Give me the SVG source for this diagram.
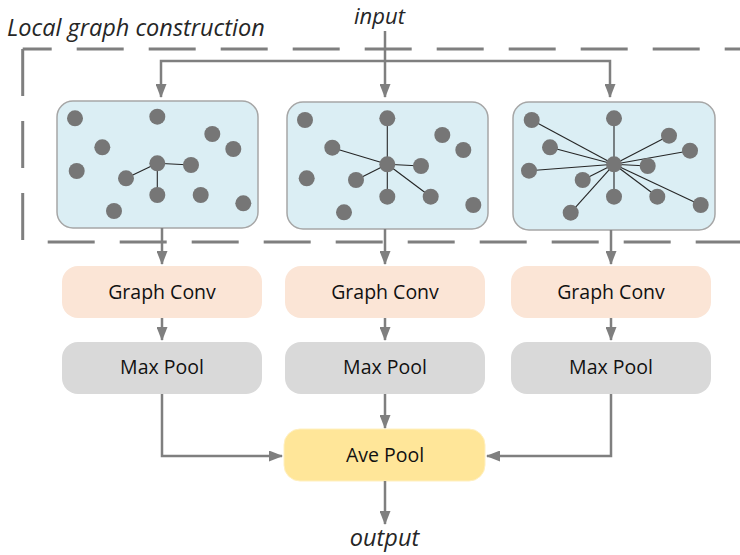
<svg xmlns="http://www.w3.org/2000/svg" width="740" height="555" viewBox="0 0 740 555">
  <defs>
    <marker id="arrow" viewBox="0 0 14 11" refX="13" refY="5.5" markerWidth="14" markerHeight="11" orient="auto" markerUnits="userSpaceOnUse">
      <path d="M0,0 L14,5.5 L0,11 z" fill="#7f7f7f"/>
    </marker>
    <style>
      .frame { fill: none; stroke: #7f7f7f; stroke-width: 3; stroke-dasharray: 47 25; }
      .panel { fill: #dbeef4; stroke: #a6a6a6; stroke-width: 1.5; }
      .pt { fill: #767676; }
      .edge { stroke: #262626; stroke-width: 1.1; fill: none; }
      .conn { fill: none; stroke: #7f7f7f; stroke-width: 2.5; marker-end: url(#arrow); }
      .conv { fill: #fbe5d6; }
      .maxp { fill: #d9d9d9; }
      .avep { fill: #ffe699; stroke: #fff0c0; stroke-width: 1; }
      .lbl { font-family: "Open Sans", "Noto Sans", sans-serif; font-size: 19.5px; fill: #111111; text-anchor: middle; }
      .ital { font-family: "Open Sans", "Noto Sans", sans-serif; font-size: 23.5px; font-style: italic; fill: #262626; }
    </style>
  </defs>

  <!-- dashed region around the graph-construction stage -->
  <g id="local-graph-construction">
    <path class="frame" d="M22.7,49 H745" stroke-dashoffset="18"/>
    <path class="frame" d="M22.7,49 V242"/>
    <path class="frame" d="M22.7,242 H745" stroke-dashoffset="47"/>
    <text class="ital" x="7" y="36">Local graph construction</text>
  </g>

  <!-- panel 1: small neighbourhood -->
  <g id="graph-1">
    <rect class="panel" x="57" y="101" width="201" height="127" rx="16"/>
    <g class="edge">
      <line x1="157.3" y1="163.3" x2="191" y2="165"/>
      <line x1="157.3" y1="163.3" x2="126" y2="178.3"/>
      <line x1="157.3" y1="163.3" x2="157.3" y2="195"/>
    </g>
    <g class="pt">
      <circle cx="75" cy="118.3" r="8"/>
      <circle cx="157.3" cy="116.7" r="8"/>
      <circle cx="212.3" cy="134" r="8"/>
      <circle cx="233.3" cy="149" r="8"/>
      <circle cx="102.3" cy="147.3" r="8"/>
      <circle cx="76.7" cy="171" r="8"/>
      <circle cx="157.3" cy="163.3" r="8"/>
      <circle cx="191" cy="165" r="8"/>
      <circle cx="126" cy="178.3" r="8"/>
      <circle cx="157.3" cy="195" r="8"/>
      <circle cx="200.7" cy="195" r="8"/>
      <circle cx="243.3" cy="203.3" r="8"/>
      <circle cx="114" cy="211" r="8"/>
    </g>
  </g>

  <!-- panel 2: medium neighbourhood -->
  <g id="graph-2">
    <rect class="panel" x="287" y="102" width="201" height="127" rx="16"/>
    <g class="edge">
      <line x1="387.3" y1="164.3" x2="387.3" y2="118.3"/>
      <line x1="387.3" y1="164.3" x2="332.3" y2="147.7"/>
      <line x1="387.3" y1="164.3" x2="421" y2="166"/>
      <line x1="387.3" y1="164.3" x2="356" y2="180"/>
      <line x1="387.3" y1="164.3" x2="387.3" y2="196.7"/>
      <line x1="387.3" y1="164.3" x2="430.7" y2="196.7"/>
    </g>
    <g class="pt">
      <circle cx="305" cy="120" r="8"/>
      <circle cx="387.3" cy="118.3" r="8"/>
      <circle cx="442.3" cy="135" r="8"/>
      <circle cx="463.3" cy="150" r="8"/>
      <circle cx="332.3" cy="147.7" r="8"/>
      <circle cx="306.7" cy="178.3" r="8"/>
      <circle cx="387.3" cy="164.3" r="8"/>
      <circle cx="421" cy="166" r="8"/>
      <circle cx="356" cy="180" r="8"/>
      <circle cx="387.3" cy="196.7" r="8"/>
      <circle cx="430.7" cy="196.7" r="8"/>
      <circle cx="473.3" cy="205" r="8"/>
      <circle cx="344" cy="212.3" r="8"/>
    </g>
  </g>

  <!-- panel 3: full neighbourhood -->
  <g id="graph-3">
    <rect class="panel" x="513" y="102" width="202" height="128" rx="16"/>
    <g class="edge">
      <line x1="614" y1="164.3" x2="531.7" y2="120"/>
      <line x1="614" y1="164.3" x2="614" y2="118.3"/>
      <line x1="614" y1="164.3" x2="669" y2="135.7"/>
      <line x1="614" y1="164.3" x2="690" y2="150.7"/>
      <line x1="614" y1="164.3" x2="550" y2="147.3"/>
      <line x1="614" y1="164.3" x2="529" y2="170.7"/>
      <line x1="614" y1="164.3" x2="647.7" y2="166"/>
      <line x1="614" y1="164.3" x2="582.7" y2="180"/>
      <line x1="614" y1="164.3" x2="614" y2="196.7"/>
      <line x1="614" y1="164.3" x2="657.3" y2="196.7"/>
      <line x1="614" y1="164.3" x2="700.7" y2="205"/>
      <line x1="614" y1="164.3" x2="570.7" y2="212.7"/>
    </g>
    <g class="pt">
      <circle cx="531.7" cy="120" r="8"/>
      <circle cx="614" cy="118.3" r="8"/>
      <circle cx="669" cy="135.7" r="8"/>
      <circle cx="690" cy="150.7" r="8"/>
      <circle cx="550" cy="147.3" r="8"/>
      <circle cx="529" cy="170.7" r="8"/>
      <circle cx="614" cy="164.3" r="8"/>
      <circle cx="647.7" cy="166" r="8"/>
      <circle cx="582.7" cy="180" r="8"/>
      <circle cx="614" cy="196.7" r="8"/>
      <circle cx="657.3" cy="196.7" r="8"/>
      <circle cx="700.7" cy="205" r="8"/>
      <circle cx="570.7" cy="212.7" r="8"/>
    </g>
  </g>

  <!-- processing blocks -->
  <g id="graph-conv-1"><rect class="conv" x="62" y="266" width="200" height="52" rx="16"/><text class="lbl" x="162" y="299">Graph Conv</text></g>
  <g id="graph-conv-2"><rect class="conv" x="285" y="266" width="200" height="52" rx="16"/><text class="lbl" x="385" y="299">Graph Conv</text></g>
  <g id="graph-conv-3"><rect class="conv" x="511" y="266" width="200" height="52" rx="16"/><text class="lbl" x="611" y="299">Graph Conv</text></g>

  <g id="max-pool-1"><rect class="maxp" x="62" y="342" width="200" height="52" rx="16"/><text class="lbl" x="162" y="374">Max Pool</text></g>
  <g id="max-pool-2"><rect class="maxp" x="285" y="342" width="200" height="52" rx="16"/><text class="lbl" x="385" y="374">Max Pool</text></g>
  <g id="max-pool-3"><rect class="maxp" x="511" y="342" width="200" height="52" rx="16"/><text class="lbl" x="611" y="374">Max Pool</text></g>

  <g id="ave-pool"><rect class="avep" x="284" y="429" width="201" height="52" rx="16"/><text class="lbl" x="385" y="462">Ave Pool</text></g>

  <g id="input"><text class="ital" x="379.5" y="24" text-anchor="middle" style="font-size:22px">input</text></g>
  <g id="output"><text class="ital" x="384.5" y="546" text-anchor="middle">output</text></g>

  <!-- connectors -->
  <g id="connectors">
    <path class="conn" d="M385,31 V97"/>
    <path class="conn" d="M385,61 H161 V97"/>
    <path class="conn" d="M385,61 H610 V97"/>

    <path class="conn" d="M162,228 V264"/>
    <path class="conn" d="M385,229 V264"/>
    <path class="conn" d="M611,230 V264"/>

    <path class="conn" d="M162,318 V340"/>
    <path class="conn" d="M385,318 V340"/>
    <path class="conn" d="M611,318 V340"/>

    <path class="conn" d="M162,394 V456 H282"/>
    <path class="conn" d="M385,394 V428"/>
    <path class="conn" d="M611,394 V456 H487"/>

    <path class="conn" d="M385,481 V524"/>
  </g>
</svg>
